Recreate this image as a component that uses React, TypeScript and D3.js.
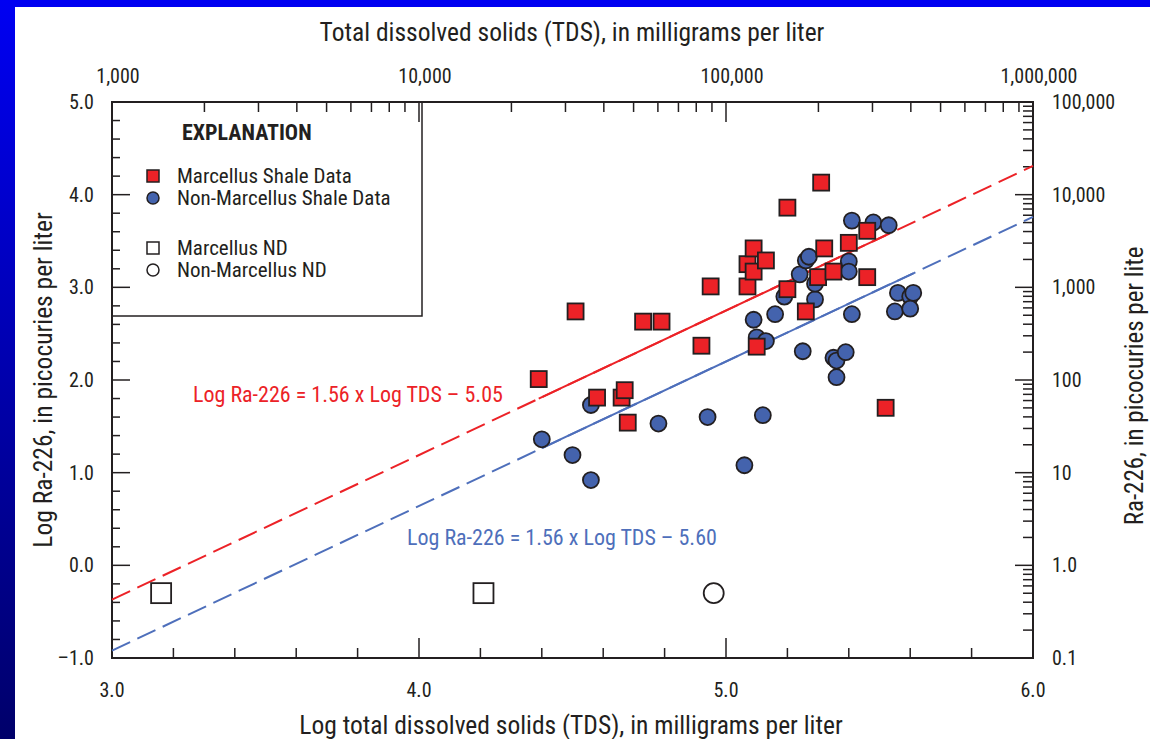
import React, { useEffect, useRef } from 'react'
import * as d3 from 'd3'

// Log TDS en Log Ra-226 waarden
const marcellusTDS = [4.39, 4.51, 4.58, 4.66, 4.67, 4.68, 4.73, 4.79, 4.92, 4.95, 5.07, 5.07, 5.09, 5.09, 5.1, 5.13, 5.2, 5.2, 5.26, 5.3, 5.31, 5.32, 5.35, 5.4, 5.46, 5.46, 5.52]
const marcellusRa = [2.01, 2.74, 1.81, 1.81, 1.89, 1.54, 2.63, 2.63, 2.37, 3.01, 3.01, 3.25, 3.42, 3.17, 2.36, 3.29, 3.86, 2.98, 2.74, 3.11, 4.13, 3.42, 3.17, 3.48, 3.61, 3.11, 1.7]

const nonMarcellusTDS = [4.4, 4.5, 4.56, 4.56, 4.78, 4.94, 5.06, 5.09, 5.1, 5.13, 5.12, 5.16, 5.19, 5.25, 5.24, 5.26, 5.27, 5.29, 5.29, 5.35, 5.36, 5.39, 5.36, 5.4, 5.4, 5.41, 5.41, 5.48, 5.53, 5.56, 5.6, 5.61, 5.55, 5.6]
const nonMarcellusRa = [1.36, 1.19, 1.73, 0.92, 1.53, 1.6, 1.08, 2.65, 2.46, 2.42, 1.62, 2.71, 2.9, 2.31, 3.14, 3.29, 3.33, 2.87, 3.04, 2.24, 2.21, 2.3, 2.03, 3.28, 3.17, 2.71, 3.72, 3.7, 3.67, 2.94, 2.9, 2.94, 2.74, 2.77]

// niet-detecteerbare waarden (ND)
const marcellusNDTDS = [3.16, 4.21]
const marcellusNDRa = [-0.3, -0.3]
const nonMarcellusNDTDS = [4.96]
const nonMarcellusNDRa = [-0.3]

// regressielijnen: Log Ra-226 = slope x Log TDS + intercept
const fitSlope = 1.56
const fitIntercepts = [-5.05, -5.6]
const fitLabels = ['Log Ra-226 = 1.56 x Log TDS \u2013 5.05', 'Log Ra-226 = 1.56 x Log TDS \u2013 5.60']

const bottomTicks = [3, 4, 5, 6]
const leftTicks = [-1, 0, 1, 2, 3, 4, 5]
const topTickValues = [1e3, 1e4, 1e5, 1e6]
const topTickLabels = ['1,000', '10,000', '100,000', '1,000,000']
const rightTickValues = [0.1, 1, 10, 100, 1e3, 1e4, 1e5]
const rightTickLabels = ['0.1', '1.0', '10', '100', '1,000', '10,000', '100,000']

const legendLabels = ['Marcellus Shale Data', 'Non-Marcellus Shale Data', 'Marcellus ND', 'Non-Marcellus ND']

const W = 1150
const H = 739
const margin = { top: 102, bottom: 81, left: 112, right: 117 }
const FONT = "'Liberation Sans Narrow', 'Roboto Condensed', 'DejaVu Sans Condensed', 'Arial Narrow', sans-serif"
const INK = '#231f20'
const RED = '#ec2227'
const BLUE = '#4463ad'
const LINE_BLUE = '#4e6fbb'

function App() {
	const ref = useRef<SVGSVGElement>(null)

	useEffect(() => {
		const svg = d3.select(ref.current)
		svg.selectAll('*').remove()

		const x0 = margin.left
		const x1 = W - margin.right
		const y0 = H - margin.bottom
		const y1 = margin.top

		const xscale = d3.scaleLinear().domain([3, 6]).range([x0, x1])
		const yscale = d3.scaleLinear().domain([-1, 5]).range([y0, y1])
		const topscale = d3.scaleLog().domain([1e3, 1e6]).range([x0, x1])
		const rightscale = d3.scaleLog().domain([0.1, 1e5]).range([y0, y1])

		// achtergrond met blauwe rand
		const defs = svg.append('defs')
		const grad = defs.append('linearGradient').attr('id', 'bg').attr('x1', 0).attr('y1', 0).attr('x2', 0).attr('y2', 1)
		grad.append('stop').attr('offset', '0%').attr('stop-color', '#0000f2')
		grad.append('stop').attr('offset', '100%').attr('stop-color', '#00006a')
		svg.append('rect').attr('width', W).attr('height', H).attr('fill', 'url(#bg)')
		svg.append('rect').attr('x', 15).attr('y', 7).attr('width', W - 15).attr('height', H - 7).attr('fill', '#fff')

		const g = svg.append('g').attr('font-family', FONT).attr('fill', INK)

		// legenda kader
		g.append('rect')
			.attr('x', x0).attr('y', y1).attr('width', 310).attr('height', 214)
			.attr('fill', 'none').attr('stroke', INK).attr('stroke-width', 1.5)

		// ticks
		const tickG = g.append('g').attr('stroke', INK).attr('stroke-width', 1.5)
		// onder en links: lineair, minor elke 0.2
		d3.range(3, 6.001, 0.2).forEach(v => {
			const major = Math.abs(v - Math.round(v)) < 1e-6
			const len = major ? 20 : 10
			tickG.append('line').attr('x1', xscale(v)).attr('x2', xscale(v)).attr('y1', y0).attr('y2', y0 - len)
		})
		d3.range(-1, 5.001, 0.2).forEach(v => {
			const major = Math.abs(v - Math.round(v)) < 1e-6
			const len = major ? 18 : 8
			tickG.append('line').attr('x1', x0).attr('x2', x0 + len).attr('y1', yscale(v)).attr('y2', yscale(v))
		})
		// boven en rechts: logaritmisch
		topscale.ticks().forEach(v => {
			const major = Math.abs(Math.log10(v) - Math.round(Math.log10(v))) < 1e-6
			const len = major ? 20 : 10
			tickG.append('line').attr('x1', topscale(v)).attr('x2', topscale(v)).attr('y1', y1).attr('y2', y1 + len)
		})
		rightscale.ticks().forEach(v => {
			const major = Math.abs(Math.log10(v) - Math.round(Math.log10(v))) < 1e-6
			const len = major ? 18 : 10
			tickG.append('line').attr('x1', x1).attr('x2', x1 - len).attr('y1', rightscale(v)).attr('y2', rightscale(v))
		})

		// as-kader
		g.append('rect')
			.attr('x', x0).attr('y', y1).attr('width', x1 - x0).attr('height', y0 - y1)
			.attr('fill', 'none').attr('stroke', INK).attr('stroke-width', 2)

		// tick labels
		g.selectAll('.bl').data(bottomTicks).join('text')
			.attr('x', d => xscale(d)).attr('y', y0 + 39).attr('text-anchor', 'middle').attr('font-size', 20)
			.text(d => d.toFixed(1))
		g.selectAll('.ll').data(leftTicks).join('text')
			.attr('x', x0 - 18).attr('y', d => yscale(d) + 7).attr('text-anchor', 'end').attr('font-size', 20)
			.text(d => (d < 0 ? '\u2013' + Math.abs(d).toFixed(1) : d.toFixed(1)))
		g.selectAll('.tl').data(topTickValues).join('text')
			.attr('x', d => topscale(d) + 6).attr('y', y1 - 19).attr('text-anchor', 'middle').attr('font-size', 20)
			.text((d, i) => topTickLabels[i])
		g.selectAll('.rl').data(rightTickValues).join('text')
			.attr('x', x1 + 19).attr('y', d => rightscale(d) + 7).attr('text-anchor', 'start').attr('font-size', 20)
			.text((d, i) => rightTickLabels[i])

		// as-titels
		g.append('text').attr('x', 572).attr('y', 41).attr('text-anchor', 'middle').attr('font-size', 25.5)
			.text('Total dissolved solids (TDS), in milligrams per liter')
		g.append('text').attr('x', 571).attr('y', 734).attr('text-anchor', 'middle').attr('font-size', 25.5)
			.text('Log total dissolved solids (TDS), in milligrams per liter')
		g.append('text').attr('transform', `translate(52,${(y0 + y1) / 2}) rotate(-90)`).attr('text-anchor', 'middle').attr('font-size', 25.5)
			.text('Log Ra-226, in picocuries per liter')
		g.append('text').attr('transform', `translate(1143,${(y0 + y1) / 2 + 6}) rotate(-90)`).attr('text-anchor', 'middle').attr('font-size', 25)
			.text('Ra-226, in picocuries per lite')

		// regressielijnen: gestippeld over het hele bereik, doorgetrokken over het databereik
		const lineColors = [RED, LINE_BLUE]
		const dataRanges = [d3.extent(marcellusTDS), d3.extent(nonMarcellusTDS)]
		fitIntercepts.forEach((b, i) => {
			const f = (v: number) => fitSlope * v + b
			const xs = Math.max(3, (-1 - b) / fitSlope)
			g.append('line')
				.attr('x1', xscale(xs)).attr('y1', yscale(f(xs))).attr('x2', xscale(6)).attr('y2', yscale(f(6)))
				.attr('stroke', lineColors[i]).attr('stroke-width', 2).attr('stroke-dasharray', '20 8')
			const [a, c] = dataRanges[i] as [number, number]
			g.append('line')
				.attr('x1', xscale(a)).attr('y1', yscale(f(a))).attr('x2', xscale(c)).attr('y2', yscale(f(c)))
				.attr('stroke', lineColors[i]).attr('stroke-width', 2)
		})
		g.append('text').attr('x', 193).attr('y', 402).attr('font-size', 22).attr('fill', RED).text(fitLabels[0])
		g.append('text').attr('x', 407).attr('y', 545).attr('font-size', 22).attr('fill', LINE_BLUE).text(fitLabels[1])

		// datapunten
		const r = 8
		const s = 16
		g.append('g').selectAll('circle').data(nonMarcellusTDS).join('circle')
			.attr('cx', d => xscale(d)).attr('cy', (d, i) => yscale(nonMarcellusRa[i])).attr('r', r)
			.attr('fill', BLUE).attr('stroke', INK).attr('stroke-width', 1.8)
		g.append('g').selectAll('rect').data(marcellusTDS).join('rect')
			.attr('x', d => xscale(d) - s / 2).attr('y', (d, i) => yscale(marcellusRa[i]) - s / 2)
			.attr('width', s).attr('height', s)
			.attr('fill', RED).attr('stroke', INK).attr('stroke-width', 1.8)
		g.append('g').selectAll('rect').data(marcellusNDTDS).join('rect')
			.attr('x', d => xscale(d) - 10).attr('y', (d, i) => yscale(marcellusNDRa[i]) - 10)
			.attr('width', 20).attr('height', 20)
			.attr('fill', '#fff').attr('stroke', INK).attr('stroke-width', 1.8)
		g.append('g').selectAll('circle').data(nonMarcellusNDTDS).join('circle')
			.attr('cx', d => xscale(d)).attr('cy', (d, i) => yscale(nonMarcellusNDRa[i])).attr('r', 10)
			.attr('fill', '#fff').attr('stroke', INK).attr('stroke-width', 1.8)

		// legenda inhoud
		const lg = g.append('g')
		lg.append('text').attr('x', 182).attr('y', 140).attr('font-size', 22).attr('font-weight', 'bold').text('EXPLANATION')
		const legendY = [176, 198, 248, 270]
		lg.append('rect').attr('x', 147).attr('y', legendY[0] - 6).attr('width', 12).attr('height', 12)
			.attr('fill', RED).attr('stroke', INK).attr('stroke-width', 1.5)
		lg.append('circle').attr('cx', 153).attr('cy', legendY[1]).attr('r', 6)
			.attr('fill', BLUE).attr('stroke', INK).attr('stroke-width', 1.5)
		lg.append('rect').attr('x', 147).attr('y', legendY[2] - 6).attr('width', 12).attr('height', 12)
			.attr('fill', '#fff').attr('stroke', INK).attr('stroke-width', 1.5)
		lg.append('circle').attr('cx', 153).attr('cy', legendY[3]).attr('r', 6)
			.attr('fill', '#fff').attr('stroke', INK).attr('stroke-width', 1.5)
		lg.selectAll('.lt').data(legendLabels).join('text')
			.attr('x', 177).attr('y', (d, i) => legendY[i] + 7).attr('font-size', 21)
			.text(d => d)
	}, [])

	return (
		<svg
			ref={ref}
			width={W}
			height={H}
			style={{ position: 'absolute', left: 0, top: 0 }}
		/>
	)
}

export default App
